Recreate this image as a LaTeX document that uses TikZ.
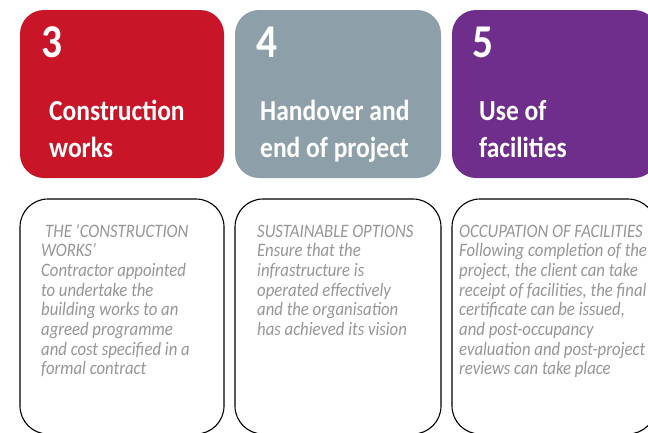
\documentclass[tikz,border=0pt]{standalone}
\usepackage{fontspec}
\setmainfont{Carlito}[FakeStretch=0.88]
\newfontfamily\bodyfam{Carlito Italic}[FakeStretch=0.88]
\definecolor{redbox}{RGB}{200,22,40}
\definecolor{greybox}{RGB}{141,160,170}
\definecolor{purplebox}{RGB}{112,46,140}
\definecolor{bodygrey}{RGB}{150,150,150}
\newcommand\numfont{\bfseries\fontsize{47}{47}\selectfont}
\newcommand\titlefont{\bfseries\fontsize{29}{29}\selectfont}
\newcommand\bodyfont{\bodyfam\fontsize{19}{19.7}\selectfont}
\begin{document}
\begin{tikzpicture}[x=1pt,y=-1pt,
  headbox/.style={rounded corners=24pt},
  descbox/.style={draw=black,line width=1.1pt,rounded corners=28pt,fill=white},
  numtxt/.style={anchor=base west,inner sep=0pt,text=white,font=\numfont},
  titletxt/.style={anchor=base west,inner sep=0pt,text=white,font=\titlefont},
  bodytxt/.style={anchor=base west,inner sep=0pt,text=bodygrey,font=\bodyfont}]
\useasboundingbox (0,0) rectangle (648,432);
\clip (0,0) rectangle (648,432);
% header boxes
\fill[redbox,headbox] (20,10) rectangle (224,178);
\fill[greybox,headbox] (235,10) rectangle (441,178);
\fill[purplebox,headbox] (452,10) rectangle (658,178);
% description boxes
\draw[descbox] (20,199) rectangle (224,434);
\draw[descbox] (235,199) rectangle (441,434);
\draw[descbox] (452,199) rectangle (656,434);
% header texts
\node[numtxt] (n3) at (41,57) {3};
\node[titletxt] (t3a) at (49,120) {Construction};
\node[titletxt] (t3b) at (49,157) {works};
\node[numtxt] (n4) at (256,57) {4};
\node[titletxt] (t4a) at (260,120) {Handover and};
\node[titletxt] (t4b) at (260,157) {end of project};
\node[numtxt] (n5) at (472,57) {5};
\node[titletxt] (t5a) at (479,120) {Use of};
\node[titletxt] (t5b) at (479,157) {facilities};
% body texts
\node[bodytxt] (b3) at (41,237) {\vtop{\baselineskip=19.7pt
  \hbox{\hspace{4pt}THE \textquotesingle CONSTRUCTION}
  \hbox{WORKS’}
  \hbox{Contractor appointed}
  \hbox{to undertake the}
  \hbox{building works to an}
  \hbox{agreed programme}
  \hbox{and cost specified in a}
  \hbox{formal contract}}};
\node[bodytxt] (b4) at (257,237) {\vtop{\baselineskip=19.7pt
  \hbox{SUSTAINABLE OPTIONS}
  \hbox{Ensure that the}
  \hbox{infrastructure is}
  \hbox{operated effectively}
  \hbox{and the organisation}
  \hbox{has achieved its vision}}};
\node[bodytxt] (b5) at (459,237) {\vtop{\baselineskip=19.7pt
  \hbox{OCCUPATION OF FACILITIES}
  \hbox{Following completion of the}
  \hbox{project, the client can take}
  \hbox{receipt of facilities, the final}
  \hbox{certificate can be issued,}
  \hbox{and post-occupancy}
  \hbox{evaluation and post-project}
  \hbox{reviews can take place}}};
\end{tikzpicture}
\end{document}
